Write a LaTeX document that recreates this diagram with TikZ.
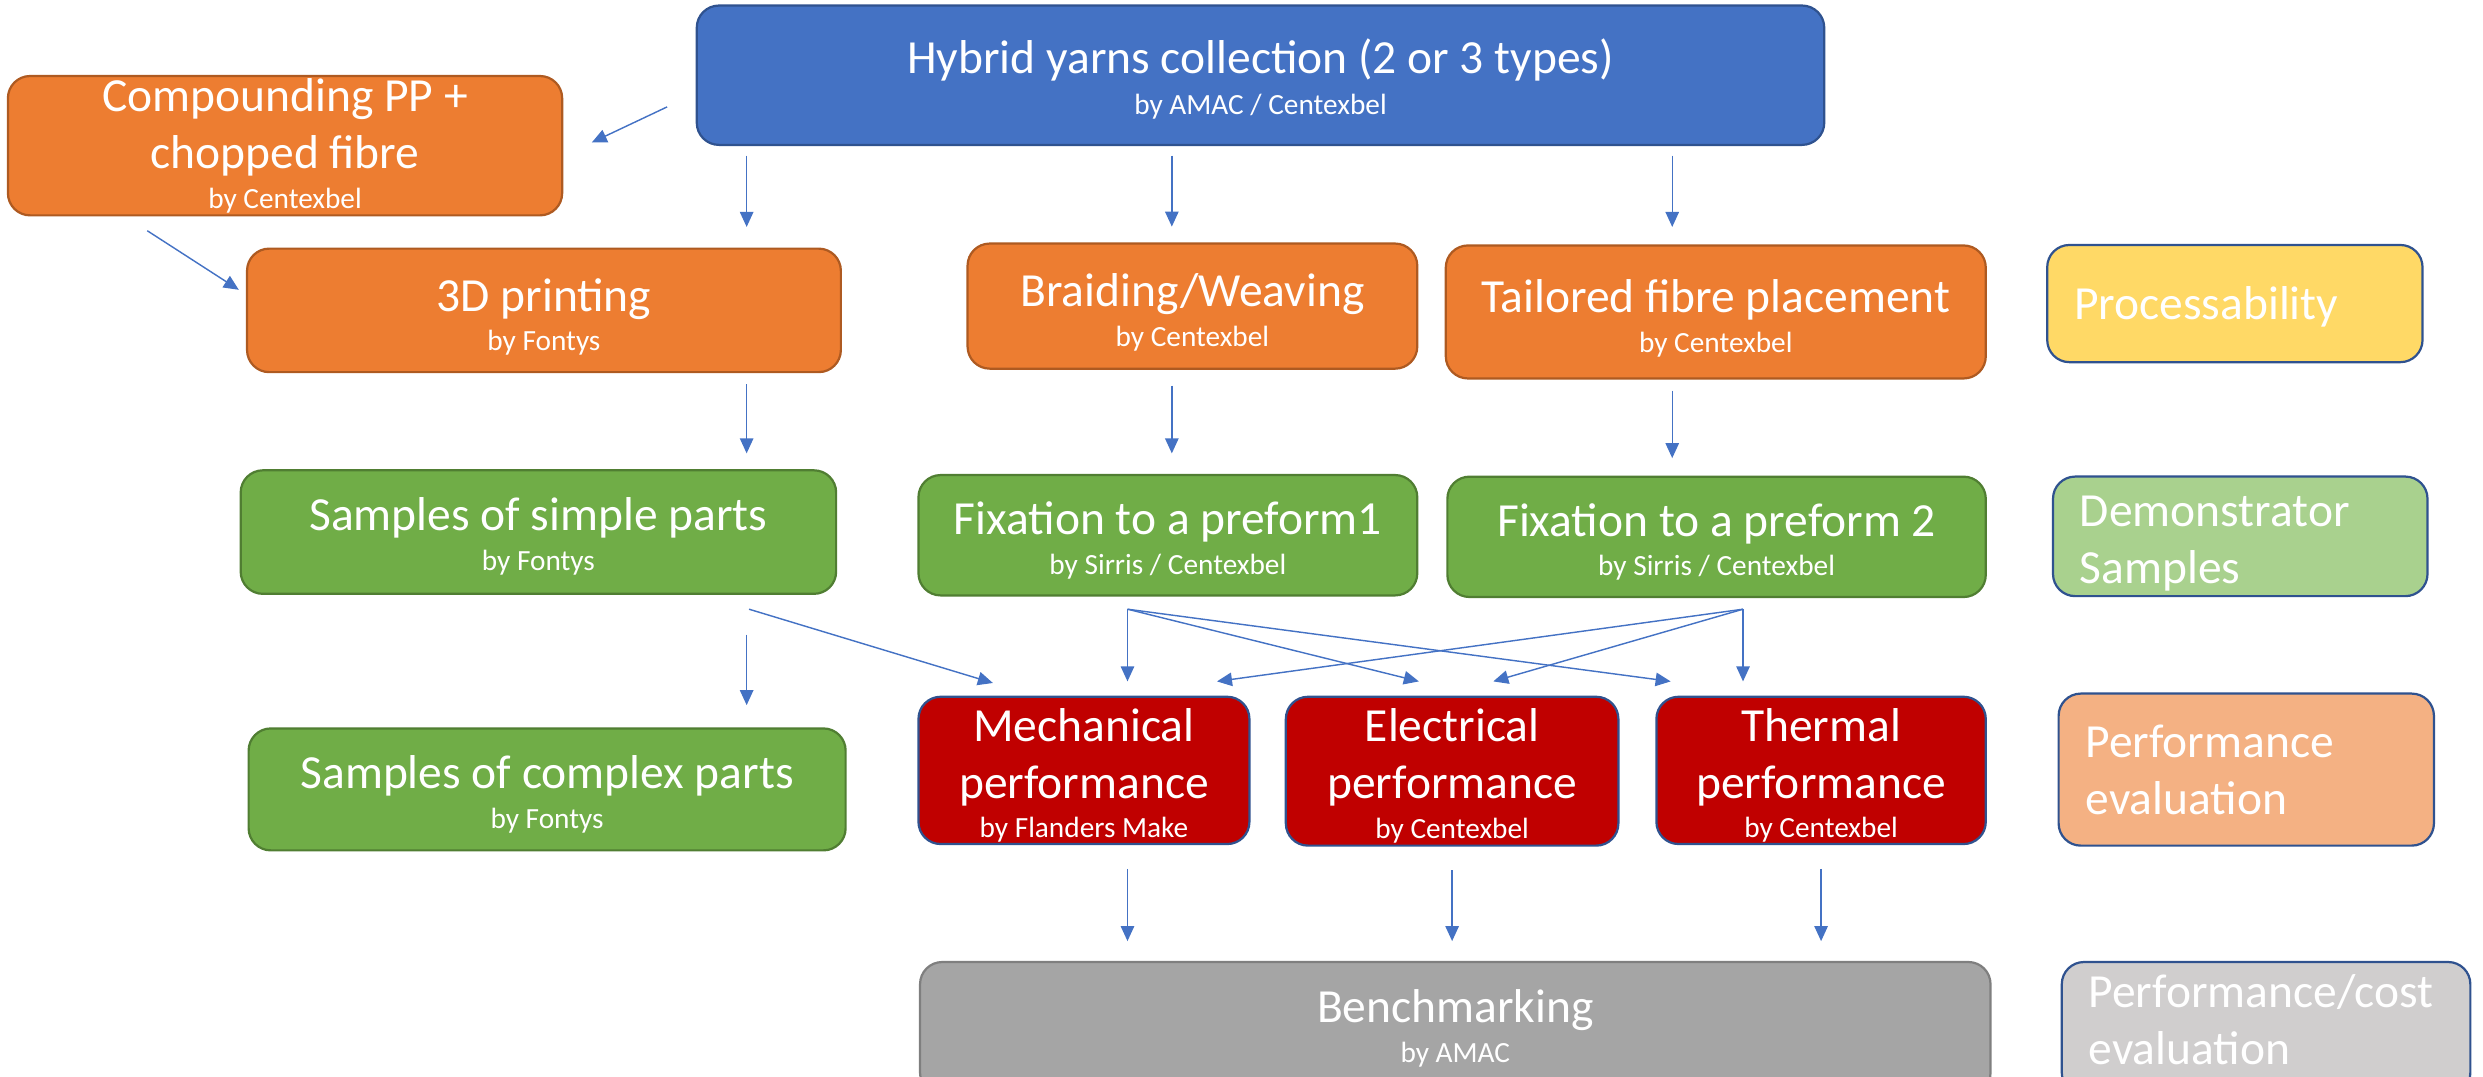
\documentclass[tikz,border=0pt]{standalone}
\usepackage{fontspec}
\setmainfont{Carlito}
\usetikzlibrary{arrows.meta}
\definecolor{YBlue}{HTML}{4472C4}
\definecolor{YBlueDk}{HTML}{2F528F}
\definecolor{YOrange}{HTML}{ED7D31}
\definecolor{YOrangeDk}{HTML}{AE5A21}
\definecolor{YGreen}{HTML}{70AD47}
\definecolor{YGreenDk}{HTML}{507E32}
\definecolor{YRed}{HTML}{C00000}
\definecolor{YGrey}{HTML}{A5A5A5}
\definecolor{YGreyDk}{HTML}{7F7F7F}
\definecolor{YGold}{HTML}{FFD966}
\definecolor{YMint}{HTML}{A9D18E}
\definecolor{YPeach}{HTML}{F4B183}
\definecolor{YSilver}{HTML}{D0CECE}
\newcommand{\byorg}[1]{{\fontsize{18.5}{22}\selectfont #1}}
\newcommand{\topgap}[1][29pt]{\rule{0pt}{#1}}

\begin{document}
\begin{tikzpicture}[x=1pt,y=-1pt,
  box/.style={rounded corners=14pt,line width=1.4pt,inner sep=0pt,text=white,
    align=center,font=\fontsize{30}{36}\selectfont},
  yarn/.style={box,draw=YBlueDk,fill=YBlue},
  proc/.style={box,draw=YOrangeDk,fill=YOrange},
  samp/.style={box,draw=YGreenDk,fill=YGreen},
  perf/.style={box,draw=YBlueDk,fill=YRed},
  bench/.style={box,draw=YGreyDk,fill=YGrey},
  lab/.style={box,draw=YBlueDk,align=left,inner xsep=17pt},
  a/.style={-{Triangle[length=9.5pt,width=8.5pt]},line width=0.9pt,color=YBlue}
]
  \useasboundingbox (0,0) rectangle (1568,680);

  % process boxes
  \node[yarn,minimum width=712pt,minimum height=88pt] (yarns) at (796,47.5)
    {\topgap[27pt]Hybrid yarns collection (2 or 3 types)\\[-10pt]\byorg{by AMAC\ / Centexbel}};
  \node[proc,minimum width=350pt,minimum height=88pt] (comp) at (180,92)
    {Compounding PP +\\chopped fibre\\[-11pt]\byorg{by Centexbel}};
  \node[proc,minimum width=375pt,minimum height=78pt] (print) at (343.5,196)
    {\topgap 3D printing\\[-11pt]\byorg{by Fontys}};
  \node[proc,minimum width=284pt,minimum height=79pt] (braid) at (753,193.3)
    {\topgap Braiding/Weaving\\[-11pt]\byorg{by Centexbel}};
  \node[proc,minimum width=341pt,minimum height=84pt] (tfp) at (1083.5,197)
    {\topgap Tailored fibre placement\\[-11pt]\byorg{by Centexbel}};

  \node[samp,minimum width=376pt,minimum height=78pt] (simple) at (340,336)
    {\topgap[26pt]Samples of simple parts\\[-11pt]\byorg{by Fontys}};
  \node[samp,minimum width=315pt,minimum height=76pt] (fixa) at (737.5,338)
    {\topgap[27pt]Fixation to a preform1\\[-11pt]\byorg{by Sirris\ / Centexbel}};
  \node[samp,minimum width=340pt,minimum height=76pt] (fixb) at (1084,339)
    {\topgap[27pt]Fixation to a preform 2\\[-11pt]\byorg{by Sirris\ / Centexbel}};
  \node[samp,minimum width=377pt,minimum height=77pt] (complex) at (345.5,498.5)
    {\topgap[27pt]Samples of complex parts\\[-11pt]\byorg{by Fontys}};

  \node[perf,minimum width=209pt,minimum height=93pt] (mech) at (684.5,486.5)
    {\topgap[27pt]Mechanical\\performance\\[-11pt]\byorg{by Flanders Make}};
  \node[perf,minimum width=210pt,minimum height=94pt] (elec) at (917,487)
    {\topgap[27pt]Electrical\\performance\\[-11pt]\byorg{by Centexbel}};
  \node[perf,minimum width=208pt,minimum height=93pt] (therm) at (1150,486.5)
    {\topgap[27pt]Thermal\\performance\\[-11pt]\byorg{by Centexbel}};

  \node[bench,minimum width=676pt,minimum height=84pt] (bench) at (919,649.5)
    {Benchmarking\\[-11pt]\byorg{by AMAC}};

  % stage labels
  \node[lab,fill=YGold,text width=203pt,minimum height=74pt] (lproc)
    at (1411.3,191.7) {\topgap[25pt]Processability};
  \node[lab,fill=YMint,text width=202.5pt,minimum height=75.5pt] (ldemo)
    at (1414.7,338.7) {\topgap Demonstrator\\Samples};
  \node[lab,fill=YPeach,text width=203pt,minimum height=96pt] (lperf)
    at (1418.5,486) {Performance\\evaluation};
  \node[lab,fill=YSilver,text width=224pt,minimum height=84pt] (lcost)
    at (1431,649.5) {Performance/cost\\evaluation\rule[-12pt]{0pt}{12pt}};

  % arrows
  \coordinate (c1) at (471.5,0);
  \coordinate (c2) at (740,0);
  \coordinate (c3) at (1056,0);
  \coordinate (hubA) at ([xshift=-25.5pt,yshift=-8pt]fixa.south);
  \coordinate (hubB) at ([xshift=16.7pt,yshift=-7pt]fixb.south);

  \draw[a,shorten <=6pt,shorten >=13pt] (yarns.south -| c1) -- (print.north -| c1);
  \draw[a,shorten <=6pt,shorten >=10pt] (yarns.south -| c2) -- (braid.north -| c2);
  \draw[a,shorten <=6pt,shorten >=11pt] (yarns.south -| c3) -- (tfp.north -| c3);
  \draw[a] ([xshift=-18pt,yshift=-20pt]yarns.west) -- ([xshift=18pt,yshift=2pt]comp.east);
  \draw[a] ([xshift=-87pt,yshift=-9pt]comp.south) -- ([xshift=-4.5pt,yshift=13pt]print.west);

  \draw[a,shorten <=7pt,shorten >=10pt] (print.south -| c1) -- (simple.north -| c1);
  \draw[a,shorten <=10pt,shorten >=13pt] (braid.south -| c2) -- (fixa.north -| c2);
  \draw[a,shorten <=7pt,shorten >=11pt] (tfp.south -| c3) -- (fixb.north -| c3);

  \draw[a,shorten <=25pt,shorten >=14pt] (simple.south -| c1) -- (complex.north -| c1);
  \draw[a] ([xshift=133pt,yshift=-9pt]simple.south) -- ([xshift=-57.5pt,yshift=8pt]mech.north);
  \draw[a,shorten >=9pt] (hubA) -- (hubA |- mech.north);
  \draw[a,shorten >=9pt] (hubB) -- (hubB |- therm.north);
  \foreach \t/\dx in {elec/-21,therm/-95}
    {\draw[a] (hubA) -- ([xshift=\dx pt,yshift=9pt]\t.north);}
  \foreach \t/\dx in {mech/84,elec/26}
    {\draw[a] (hubB) -- ([xshift=\dx pt,yshift=9pt]\t.north);}

  \draw[a,shorten <=15pt,shorten >=12.5pt] (mech.south -| hubA) -- (bench.north -| hubA);
  \foreach \n in {elec,therm}
    {\draw[a,shorten <=15pt,shorten >=12.5pt] (\n.south) -- (bench.north -| \n.south);}
\end{tikzpicture}
\end{document}
